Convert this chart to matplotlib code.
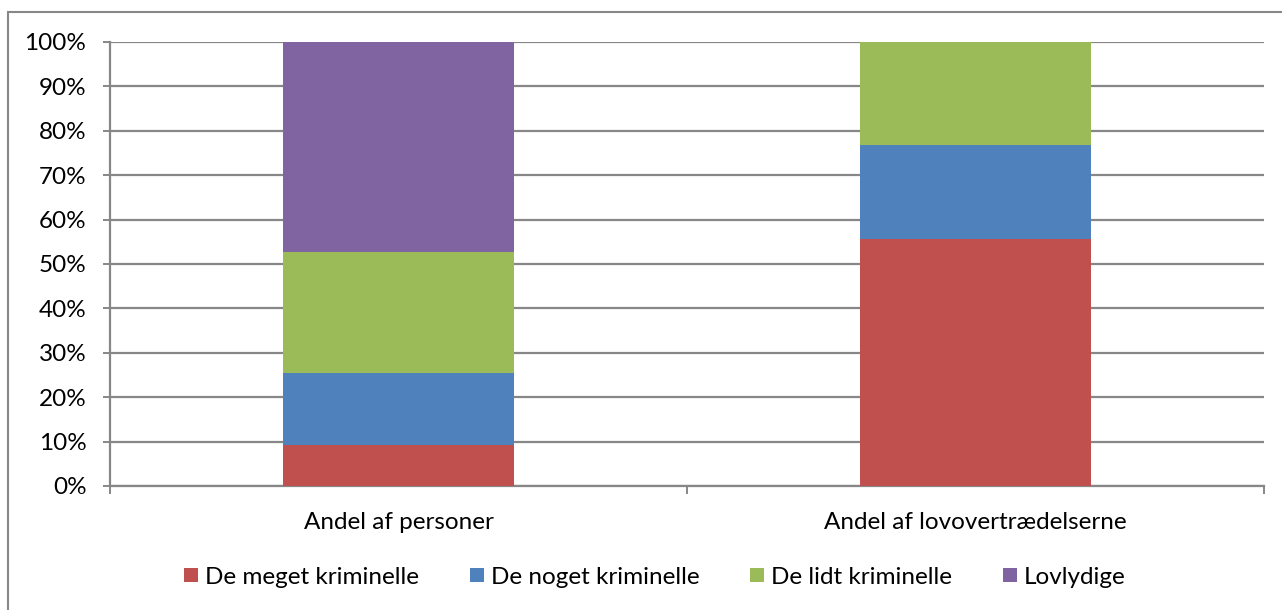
import matplotlib.pyplot as plt
import matplotlib.patches as patches
import numpy as np

plt.rcParams['font.family'] = ['Lato', 'DejaVu Sans']

categories = ['Andel af personer', 'Andel af lovovertrædelserne']
series_names = ['De meget kriminelle', 'De noget kriminelle', 'De lidt kriminelle', 'Lovlydige']
meget = [9.2, 55.7]
noget = [16.2, 21.2]
lidt = [27.3, 23.1]
lovlydige = [47.3, 0.0]
colors = ['#C0504D', '#4F81BD', '#9BBB59', '#8064A2']

fig = plt.figure(figsize=(12.82, 6.10), dpi=100)
ax = fig.add_axes([110 / 1282, 1 - 486 / 610, (1264 - 110) / 1282, (486 - 42) / 610])

x = np.arange(len(categories))
bottom = np.zeros(len(categories))
for name, vals, c in zip(series_names, [meget, noget, lidt, lovlydige], colors):
    ax.bar(x, vals, width=0.4, bottom=bottom, color=c, label=name, zorder=3)
    bottom += np.array(vals)

fs = 17.5
ax.set_xlim(-0.5, 1.5)
ax.set_ylim(0, 100)
ax.set_yticks(np.arange(0, 101, 10))
ax.set_yticklabels([f'{v}%' for v in range(0, 101, 10)], fontsize=fs)
ax.yaxis.grid(True, color='#878787', linewidth=1.6, zorder=0)
ax.set_axisbelow(True)

ax.set_xticks([-0.5, 0.5, 1.5])
ax.set_xticklabels([])
ax.set_xticks(x, minor=True)
ax.set_xticklabels(categories, minor=True, fontsize=fs)
ax.tick_params(axis='x', which='minor', length=0, pad=19)
ax.tick_params(axis='x', which='major', length=6, width=1.4, color='#878787')
ax.tick_params(axis='y', length=5, width=1.4, color='#878787', pad=12)

for s in ['top', 'right']:
    ax.spines[s].set_visible(False)
for s in ['left', 'bottom']:
    ax.spines[s].set_color('#878787')
    ax.spines[s].set_linewidth(1.6)

fig.legend(loc='center', bbox_to_anchor=(655 / 1282, 1 - 577 / 610), ncol=4,
           frameon=False, fontsize=fs, handlelength=0.55, handleheight=0.55,
           handletextpad=0.3, columnspacing=2.1)

# outer chart frame
frame = patches.Rectangle((8 / 1282, -0.1), 1.2, 1.1 - 12 / 610, transform=fig.transFigure,
                          fill=False, edgecolor='#878787', linewidth=1.5)
fig.patches.append(frame)

fig.savefig('out.png', dpi=100)
